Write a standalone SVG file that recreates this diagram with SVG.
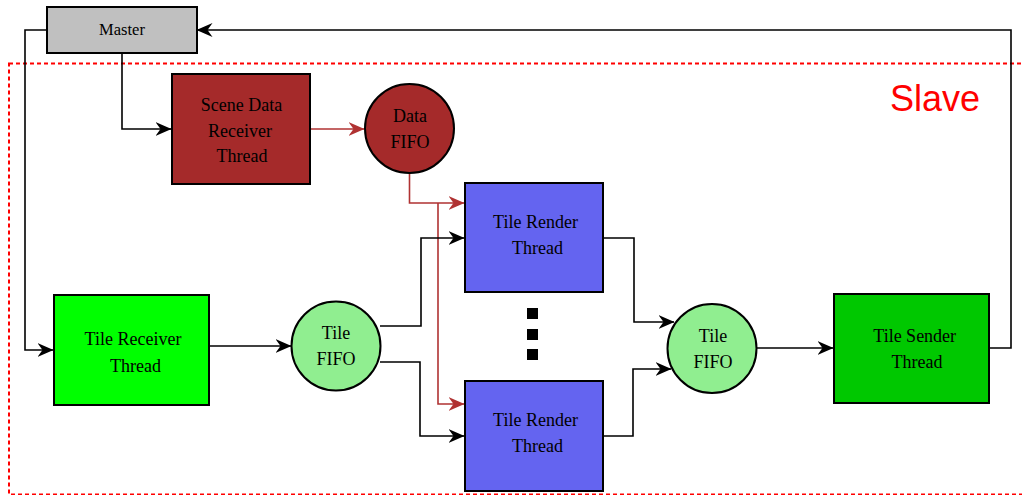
<svg xmlns="http://www.w3.org/2000/svg" width="1022" height="495" viewBox="0 0 1022 495">
<style>
.node{stroke:#000;stroke-width:2}
.t{font-family:"Liberation Serif","Times New Roman",serif;font-size:18px;fill:#000;text-anchor:middle}
.c{fill:none;stroke:#000;stroke-width:1.6}
.r{fill:none;stroke:#b03232;stroke-width:1.6}
</style>
<defs>
<marker id="ab" viewBox="0 0 16 14" markerWidth="16" markerHeight="14" refX="15.5" refY="7" orient="auto" markerUnits="userSpaceOnUse">
<path d="M0,0 L16,7 L0,14 L5,7 Z" fill="#000"/>
</marker>
<marker id="ar" viewBox="0 0 16 14" markerWidth="16" markerHeight="14" refX="15.5" refY="7" orient="auto" markerUnits="userSpaceOnUse">
<path d="M0,0 L16,7 L0,14 L5,7 Z" fill="#b03232"/>
</marker>
</defs>
<rect width="1022" height="495" fill="#fff"/>
<g id="slave">
<rect x="9" y="63.5" width="1030" height="431" fill="none" stroke="#ff0000" stroke-width="2" stroke-dasharray="4,3"/>
<text x="890" y="111" style="font-family:'Liberation Sans',Arial,sans-serif;font-size:36px;fill:#ff0000">Slave</text>
</g>
<g id="connectors">
<path class="c" d="M47,30 H25 V350 H53" marker-end="url(#ab)"/>
<path class="c" d="M122,53 V129 H171" marker-end="url(#ab)"/>
<path class="r" d="M310,129 H364" marker-end="url(#ar)"/>
<path class="r" d="M409.5,173 V203 H464" marker-end="url(#ar)"/>
<path class="r" d="M438,203 V404 H464" marker-end="url(#ar)"/>
<path class="c" d="M209,346 H291" marker-end="url(#ab)"/>
<path class="c" d="M380,326 H421 V238 H464" marker-end="url(#ab)"/>
<path class="c" d="M380,362 H420 V436 H464" marker-end="url(#ab)"/>
<path class="c" d="M603,238 H634 V322 H674" marker-end="url(#ab)"/>
<path class="c" d="M603,436 H633 V369 H671" marker-end="url(#ab)"/>
<path class="c" d="M757,348 H833" marker-end="url(#ab)"/>
<path class="c" d="M989,348 H1011 V30 H197" marker-end="url(#ab)"/>
</g>
<g id="master">
<rect class="node" x="47" y="7" width="150" height="46" fill="#c0c0c0"/>
<text class="t" x="122" y="35" style="font-size:16.5px">Master</text>
</g>
<g id="scene-data-receiver">
<rect class="node" x="172" y="74" width="138" height="110" fill="#a52a2a"/>
<text class="t" x="241.5" y="111">Scene Data</text>
<text class="t" x="240" y="136.7">Receiver</text>
<text class="t" x="242" y="162.3">Thread</text>
</g>
<g id="data-fifo">
<circle class="node" cx="409.5" cy="128.5" r="44.5" fill="#a52a2a"/>
<text class="t" x="410" y="121.7">Data</text>
<text class="t" x="410" y="147.7">FIFO</text>
</g>
<g id="tile-receiver">
<rect class="node" x="54" y="295" width="155" height="110" fill="#00ff00"/>
<text class="t" x="133" y="345">Tile Receiver</text>
<text class="t" x="135.5" y="371.7">Thread</text>
</g>
<g id="tile-fifo-1">
<circle class="node" cx="336" cy="346" r="44.5" fill="#90ee90"/>
<text class="t" x="336" y="339.3">Tile</text>
<text class="t" x="336" y="365">FIFO</text>
</g>
<g id="tile-render-1">
<rect class="node" x="465" y="183" width="138" height="109" fill="#6464f0"/>
<text class="t" x="535.5" y="227.7">Tile Render</text>
<text class="t" x="537.5" y="254">Thread</text>
</g>
<g id="ellipsis">
<rect x="527" y="308" width="11" height="11" fill="#000"/>
<rect x="527" y="329" width="11" height="11" fill="#000"/>
<rect x="527" y="349" width="11" height="11" fill="#000"/>
</g>
<g id="tile-render-2">
<rect class="node" x="465" y="381" width="138" height="110" fill="#6464f0"/>
<text class="t" x="535.5" y="425.7">Tile Render</text>
<text class="t" x="537.5" y="452.3">Thread</text>
</g>
<g id="tile-fifo-2">
<circle class="node" cx="712" cy="348.5" r="44.5" fill="#90ee90"/>
<text class="t" x="713" y="342.3">Tile</text>
<text class="t" x="713" y="367.7">FIFO</text>
</g>
<g id="tile-sender">
<rect class="node" x="834" y="294" width="155" height="109" fill="#00c800"/>
<text class="t" x="914.7" y="341.7">Tile Sender</text>
<text class="t" x="917" y="367.7">Thread</text>
</g>
</svg>
